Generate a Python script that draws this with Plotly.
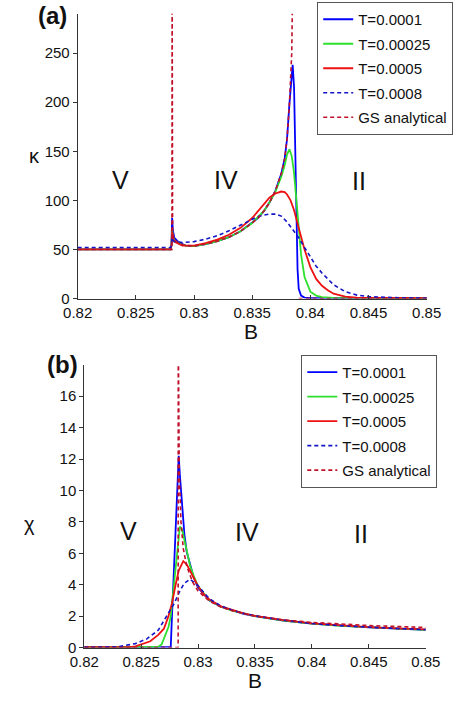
import plotly.graph_objects as go

# ---------------- Panel (a): kappa vs B ----------------
B_a_T1 = [0.82, 0.8280, 0.82806, 0.82812, 0.82818, 0.8283, 0.8287, 0.8293, 0.830, 0.831, 0.832, 0.833, 0.834,
          0.835, 0.8355, 0.836, 0.8365, 0.837, 0.8375, 0.8378, 0.838, 0.8382, 0.8383, 0.8384, 0.83848, 0.8386,
          0.8387, 0.8388, 0.8389, 0.839, 0.8392, 0.8395, 0.840, 0.85]
K_a_T1 = [50, 50, 55, 82, 70, 62, 57, 54, 53.5, 55.5, 58.5, 62.5, 68.5,
          77, 82, 89, 98, 110, 127, 143, 163, 198, 215, 232, 238, 215,
          150, 80, 30, 10, 3, 1, 0.5, 0.3]

B_a_T2 = [0.82, 0.8280, 0.82806, 0.82812, 0.82818, 0.8283, 0.8287, 0.8293, 0.830, 0.831, 0.832, 0.833, 0.834,
          0.835, 0.836, 0.8365, 0.837, 0.8375, 0.8378, 0.838, 0.8382, 0.8384, 0.8386, 0.8388, 0.839, 0.8392,
          0.8395, 0.840, 0.8405, 0.841, 0.842, 0.85]
K_a_T2 = [50, 50, 54, 70, 64, 59, 56, 54, 53.5, 55.5, 58.5, 62.5, 68.5,
          77, 89, 98, 109, 124, 136, 147, 152, 145, 128, 100, 70, 45,
          22, 7, 3, 1.5, 0.6, 0.3]

B_a_T3 = [0.82, 0.8280, 0.82806, 0.82812, 0.82818, 0.8283, 0.829, 0.830, 0.831, 0.832, 0.833, 0.834, 0.835,
          0.8355, 0.836, 0.8365, 0.837, 0.8375, 0.8378, 0.838, 0.8383, 0.8386, 0.839, 0.8395, 0.840, 0.8405,
          0.841, 0.8415, 0.842, 0.843, 0.844, 0.85]
K_a_T3 = [50, 50, 54, 68, 63, 58, 54, 54, 56.5, 60, 65, 72, 82,
          89, 96, 103, 107, 109, 108.5, 106, 100, 90, 72, 50, 32, 20,
          13, 8.5, 5, 2, 1, 0.3]

B_a_T4 = [0.82, 0.8280, 0.82806, 0.82812, 0.82818, 0.8283, 0.829, 0.830, 0.831, 0.832, 0.833, 0.834, 0.835,
          0.8355, 0.836, 0.8365, 0.837, 0.8375, 0.838, 0.8385, 0.839, 0.8395, 0.840, 0.8405, 0.841, 0.8415,
          0.842, 0.843, 0.844, 0.845, 0.847, 0.85]
K_a_T4 = [52, 52, 55, 62, 60, 58, 57, 58, 60.5, 64, 69, 75, 81,
          83.5, 85, 86, 86, 84, 78, 70, 62, 52, 43, 33, 26, 20,
          14, 7, 3.5, 2, 1, 0.5]

# None = gap in the analytical curve just after its divergence
B_a_GS = [0.82, 0.8281, 0.82812, 0.82816, 0.8283, 0.8287, 0.8293, 0.830, 0.831, 0.832, 0.833, 0.834, 0.835,
          0.8355, 0.836, 0.8365, 0.837, 0.8375, 0.8378, 0.838, 0.8382, 0.8384, 0.83848, 0.8387, 0.8390, 0.85]
K_a_GS = [50, 50, 320, 66, 60, 56, 54, 53.5, 55.5, 58.5, 62.5, 68.5, 77,
          82, 89, 98, 110, 127, 143, 163, 198, 250, 320, None, 0, 0]

# ---------------- Panel (b): chi vs B ----------------
B_b_T1 = [0.82, 0.8276, 0.82768, 0.8278, 0.8280, 0.8282, 0.8283, 0.8284, 0.8286, 0.8288, 0.829, 0.8293,
          0.8296, 0.830, 0.831, 0.832, 0.833, 0.834, 0.835, 0.8375, 0.840, 0.8425, 0.845, 0.8475, 0.85]
X_b_T1 = [0.02, 0.02, 1.5, 3.5, 6.5, 10, 12.2, 11, 8.8, 7.2, 6.1, 5.2,
          4.5, 3.8, 3.0, 2.6, 2.35, 2.15, 2.0, 1.72, 1.52, 1.38, 1.28, 1.2, 1.12]

B_b_T2 = [0.82, 0.8265, 0.8268, 0.827, 0.8274, 0.8276, 0.8278, 0.828, 0.8282, 0.8284, 0.8286, 0.8288, 0.829,
          0.8293, 0.8296, 0.830, 0.831, 0.832, 0.833, 0.834, 0.835, 0.8375, 0.840, 0.8425, 0.845, 0.8475, 0.85]
X_b_T2 = [0.02, 0.05, 0.2, 0.6, 1.3, 2.0, 3.4, 4.7, 6.3, 7.7, 7.5, 6.8, 6.1,
          5.2, 4.6, 3.9, 3.0, 2.6, 2.35, 2.15, 2.0, 1.72, 1.52, 1.38, 1.28, 1.2, 1.12]

B_b_T3 = [0.82, 0.824, 0.8245, 0.825, 0.8258, 0.8265, 0.827, 0.8274, 0.8277, 0.828, 0.8283, 0.8287, 0.829,
          0.8295, 0.830, 0.8305, 0.831, 0.832, 0.833, 0.834, 0.835, 0.8375, 0.840, 0.8425, 0.845, 0.8475, 0.85]
X_b_T3 = [0.02, 0.03, 0.08, 0.2, 0.4, 0.8, 1.2, 2.0, 2.8, 3.9, 4.9, 5.5, 5.3,
          4.6, 3.9, 3.4, 3.05, 2.62, 2.37, 2.17, 2.02, 1.74, 1.54, 1.4, 1.3, 1.22, 1.15]

B_b_T4 = [0.82, 0.823, 0.8245, 0.8255, 0.8265, 0.8273, 0.8279, 0.8284, 0.8288, 0.8293, 0.8298, 0.830,
          0.8305, 0.831, 0.832, 0.833, 0.834, 0.835, 0.8375, 0.840, 0.8425, 0.845, 0.8475, 0.85]
X_b_T4 = [0.03, 0.05, 0.25, 0.55, 1.1, 2.1, 2.8, 3.6, 4.1, 4.35, 4.1, 3.95,
          3.5, 3.1, 2.65, 2.38, 2.18, 2.02, 1.74, 1.53, 1.39, 1.29, 1.21, 1.14]

B_b_GS = [0.82, 0.82825, 0.82826, 0.82835, 0.8285, 0.8287, 0.829, 0.8295, 0.830, 0.831, 0.832, 0.833,
          0.835, 0.8375, 0.840, 0.8425, 0.845, 0.8475, 0.85]
X_b_GS = [0.0, 0.0, 20, 11, 8, 6.3, 5.2, 4.2, 3.6, 2.95, 2.58, 2.35,
          2.0, 1.76, 1.6, 1.48, 1.4, 1.34, 1.28]

legend_names = ["T=0.0001", "T=0.00025", "T=0.0005", "T=0.0008", "GS analytical"]
x_ticks = [0.82, 0.825, 0.83, 0.835, 0.84, 0.845, 0.85]
y_ticks_a = [0, 50, 100, 150, 200, 250]
y_ticks_b = [0, 2, 4, 6, 8, 10, 12, 14, 16]

FONT = "Liberation Sans, Arial, sans-serif"
styles = [
    dict(color="#0000ff", width=1.8, dash="solid"),
    dict(color="#2ee02e", width=1.8, dash="solid"),
    dict(color="#ee1111", width=1.8, dash="solid"),
    dict(color="#1515c8", width=1.6, dash="4px,3px"),
    dict(color="#c0102a", width=1.6, dash="4px,3px"),
]

fig = go.Figure()
series_a = [(B_a_T1, K_a_T1), (B_a_T2, K_a_T2), (B_a_T3, K_a_T3), (B_a_T4, K_a_T4), (B_a_GS, K_a_GS)]
series_b = [(B_b_T1, X_b_T1), (B_b_T2, X_b_T2), (B_b_T3, X_b_T3), (B_b_T4, X_b_T4), (B_b_GS, X_b_GS)]

for i, ((bx, by), nm, st) in enumerate(zip(series_a, legend_names, styles)):
    fig.add_trace(go.Scatter(x=bx, y=by, mode="lines", name=nm, line=st, xaxis="x", yaxis="y",
                             legend="legend", legendgroup=f"a{i}", connectgaps=False))
for i, ((bx, by), nm, st) in enumerate(zip(series_b, legend_names, styles)):
    fig.add_trace(go.Scatter(x=bx, y=by, mode="lines", name=nm, line=st, xaxis="x2", yaxis="y2",
                             legend="legend2", legendgroup=f"b{i}"))

W, H = 466, 702
def px(x): return x / W
def py(y): return 1 - y / H

axis_common = dict(showline=True, linecolor="#333333", linewidth=1, mirror=False, showgrid=False,
                   zeroline=False, tickfont=dict(family=FONT, size=15, color="#111111"),
                   ticklen=4, tickcolor="#333333")

legend_common = dict(xanchor="left", yanchor="top", bgcolor="white", bordercolor="#555555",
                     borderwidth=1, itemwidth=30, tracegroupgap=2,
                     font=dict(family=FONT, size=15, color="#111111"))

fig.update_layout(
    width=W, height=H, margin=dict(l=0, r=0, t=0, b=0),
    paper_bgcolor="white", plot_bgcolor="white",
    xaxis=dict(domain=[px(67), px(440)], range=[0.82, 0.85], tickvals=x_ticks,
               ticktext=[str(v) for v in x_ticks], ticks="inside", anchor="y", **axis_common),
    yaxis=dict(domain=[py(302), py(14)], range=[0, 290], tickvals=y_ticks_a, ticks="outside",
               anchor="x", **axis_common),
    xaxis2=dict(domain=[px(74), px(439)], range=[0.82, 0.85], tickvals=x_ticks,
                ticktext=[str(v) for v in x_ticks], ticks="inside", anchor="y2", **axis_common),
    yaxis2=dict(domain=[py(655), py(369)], range=[0, 18], tickvals=y_ticks_b, ticks="outside",
                anchor="x2", **axis_common),
    legend=dict(x=px(323), y=py(2), **legend_common),
    legend2=dict(x=px(306), y=py(359), **legend_common),
)

def ann(x, y, text, size, bold=False):
    fig.add_annotation(x=px(x), y=py(y), xref="paper", yref="paper", text=(f"<b>{text}</b>" if bold else text),
                       showarrow=False, xanchor="center", yanchor="middle",
                       font=dict(family=FONT, size=size, color="#111111"))

ann(40, 16, "(a)", 24, bold=True)
ann(51, 369, "(b)", 24, bold=True)
ann(21, 158, "κ", 20)
ann(16, 530, "χ", 20)
ann(252, 335, "B", 21)
ann(256, 688, "B", 21)
ann(113, 182, "V", 25)
ann(225, 182, "IV", 25)
ann(368, 183, "II", 25)
ann(121, 537, "V", 25)
ann(248, 538, "IV", 25)
ann(370, 540, "II", 25)

fig.write_html("out.html")
